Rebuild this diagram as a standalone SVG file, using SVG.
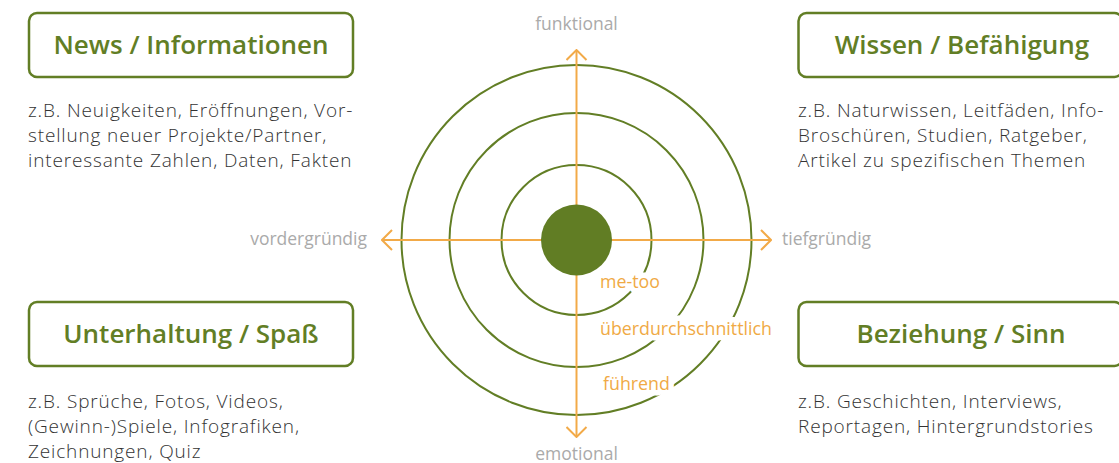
<svg xmlns="http://www.w3.org/2000/svg" width="1119" height="463" viewBox="0 0 1119 463">
<style>
.box{fill:#fff;stroke:#627e25;stroke-width:2.5}
.head{font-family:"Open Sans",sans-serif;font-weight:600;font-size:26px;fill:#627e25;text-anchor:middle}
.body{font-family:"Open Sans",sans-serif;font-weight:300;font-size:19px;letter-spacing:0.85px;fill:#333333}
.axl{font-family:"Open Sans",sans-serif;font-size:17.5px;fill:#aaaaaa}
.ring{fill:none;stroke:#627e25;stroke-width:2}
.axis{fill:none;stroke:#f2aa48;stroke-width:2}
.lvl{font-family:"Open Sans",sans-serif;font-size:17.8px;fill:#f0aa45;stroke:#fff;stroke-width:11;stroke-linejoin:round;paint-order:stroke}
</style>
<defs>
<marker id="arr" viewBox="0 0 12 22" refX="11" refY="11" markerWidth="12" markerHeight="22" markerUnits="userSpaceOnUse" orient="auto">
<path d="M1,1 L11,11 L1,21" fill="none" stroke="#f2aa48" stroke-width="2"/>
</marker>
</defs>
<g id="rings">
<circle class="ring" cx="576.5" cy="240" r="175"/>
<circle class="ring" cx="576.5" cy="240" r="127"/>
<circle class="ring" cx="576.5" cy="240" r="75"/>
</g>
<g id="connectors">
<line class="axis" x1="576.5" y1="240" x2="576.5" y2="50" marker-end="url(#arr)"/>
<line class="axis" x1="576.5" y1="240" x2="576.5" y2="437" marker-end="url(#arr)"/>
<line class="axis" x1="576.5" y1="240" x2="382" y2="240" marker-end="url(#arr)"/>
<line class="axis" x1="576.5" y1="240" x2="771" y2="240" marker-end="url(#arr)"/>
</g>
<g id="core"><circle cx="576.5" cy="240" r="35.5" fill="#617d24"/></g>
<g id="levels">
<text class="lvl" x="600" y="288">me-too</text>
<text class="lvl" x="600" y="335">überdurchschnittlich</text>
<text class="lvl" x="603" y="390">führend</text>
</g>
<g id="axis-labels">
<text class="axl" x="576.5" y="30" text-anchor="middle">funktional</text>
<text class="axl" x="576.5" y="460" text-anchor="middle">emotional</text>
<text class="axl" x="367" y="245" text-anchor="end">vordergründig</text>
<text class="axl" x="782" y="245">tiefgründig</text>
</g>
<g id="news">
<rect class="box" x="29" y="13" width="324" height="64" rx="8"/>
<text class="head" x="191" y="54">News / Informationen</text>
<text class="body"><tspan x="28" y="117">z.B. Neuigkeiten, Eröffnungen, Vor-</tspan><tspan x="28" y="142">stellung neuer Projekte/Partner,</tspan><tspan x="28" y="167">interessante Zahlen, Daten, Fakten</tspan></text>
</g>
<g id="wissen">
<rect class="box" x="798.5" y="13" width="324" height="64" rx="8"/>
<text class="head" x="962" y="54">Wissen / Befähigung</text>
<text class="body"><tspan x="798" y="117">z.B. Naturwissen, Leitfäden, Info-</tspan><tspan x="798" y="142">Broschüren, Studien, Ratgeber,</tspan><tspan x="798" y="167">Artikel zu spezifischen Themen</tspan></text>
</g>
<g id="unterhaltung">
<rect class="box" x="29" y="302" width="324" height="64" rx="8"/>
<text class="head" x="191" y="343">Unterhaltung / Spaß</text>
<text class="body"><tspan x="28" y="408">z.B. Sprüche, Fotos, Videos,</tspan><tspan x="28" y="433">(Gewinn-)Spiele, Infografiken,</tspan><tspan x="28" y="458">Zeichnungen, Quiz</tspan></text>
</g>
<g id="beziehung">
<rect class="box" x="798.5" y="302" width="324" height="64" rx="8"/>
<text class="head" x="961" y="343">Beziehung / Sinn</text>
<text class="body"><tspan x="798" y="408">z.B. Geschichten, Interviews,</tspan><tspan x="798" y="433">Reportagen, Hintergrundstories</tspan></text>
</g>
</svg>
